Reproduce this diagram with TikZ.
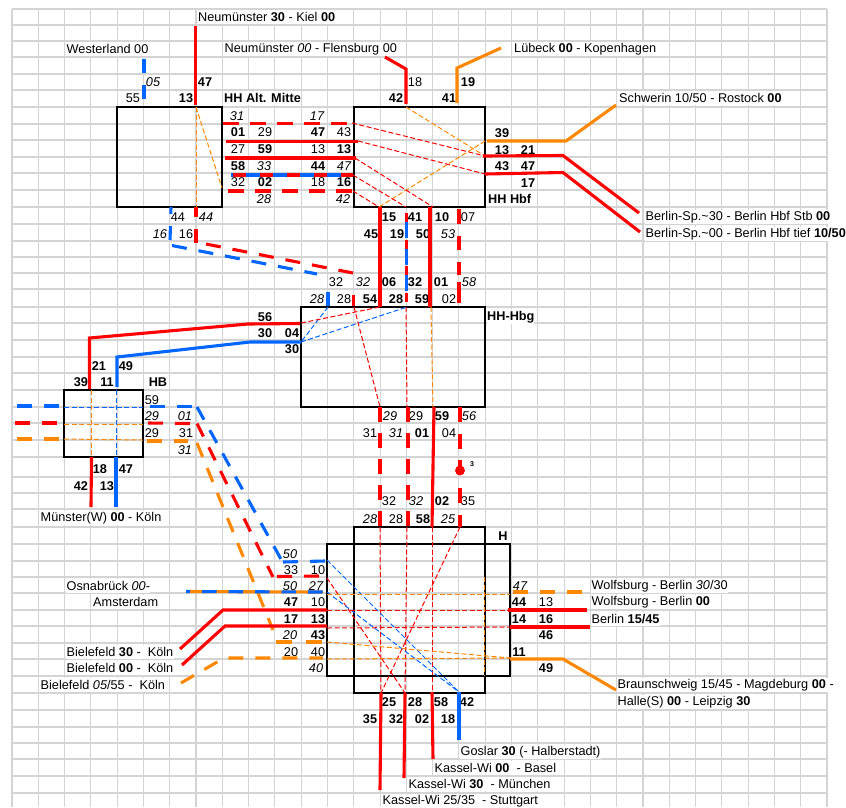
\documentclass[tikz,border=0pt]{standalone}
\usepackage{fontspec}
\setmainfont{Liberation Sans}
\usetikzlibrary{positioning}
\definecolor{linered}{RGB}{255,0,0}
\definecolor{lineblue}{RGB}{0,102,255}
\definecolor{lineorange}{RGB}{255,136,0}
\definecolor{gridgray}{RGB}{212,212,212}
\tikzset{
  gridline/.style={gridgray, line width=1.1pt},
  stationbox/.style={draw=black, line width=1.4pt, inner sep=0pt},
  num/.style={inner sep=0pt, font=\fontsize{12.7}{14}\selectfont},
  numb/.style={num, font=\fontsize{12.7}{14}\selectfont\bfseries},
  numi/.style={num, font=\fontsize{12.7}{14}\selectfont\itshape},
  place/.style={num, anchor=west, fill=white, inner xsep=0.5pt, minimum height=14pt},
  solidline/.style={line width=3.1pt, line join=miter},
  longdash/.style={line width=3.1pt, dash pattern=on 15pt off 12pt},
  thindash/.style={line width=1pt, dash pattern=on 5pt off 2.5pt},
}
\begin{document}
\begin{tikzpicture}[x=1pt,y=-1pt]
\useasboundingbox (0,0) rectangle (846,807);

% Raster
\foreach \i in {0,...,31}
  \draw[gridline] ({12+26.29*\i},9) -- ({12+26.29*\i},807);
\foreach \r in {9,25,41,57,74,90,107,124,140,157,173,190,207,224,241,257,273,289,307,323,340,357,373,390,407,423,440,457,477,493,509,527,544,561,577,593,610,626,643,659,676,693,710,727,743,759,776,793}
  \draw[gridline] (12,\r) -- (827,\r);

% Relationen
\node[place] (kiel) at (197.5,17) {Neumünster \textbf{30} - Kiel \textbf{00}};
\node[place] (westerland) at (66,49) {Westerland 00};
\node[place] (flensburg) at (224,49) {Neumünster \textit{00} - Flensburg 00};
\node[place] (luebeck) at (513.5,49) {Lübeck \textbf{00} - Kopenhagen};
\node[place] (rostock) at (618.5,98) {Schwerin 10/50 - Rostock \textbf{00}};
\node[place] (berlinstb) at (645,217) {Berlin-Sp.\textasciitilde30 - Berlin Hbf Stb \textbf{00}};
\node[place] (berlintief) at (645,234) {Berlin-Sp.\textasciitilde00 - Berlin Hbf tief \textbf{10/50}};
\node[place] (koeln) at (40,518) {Münster(W) \textbf{00} - Köln};
\node[place] (osnabrueck) at (66,586) {Osnabrück \textit{00}-};
\node[place] (amsterdam) at (92.5,602) {Amsterdam};
\node[place] (bielefelda) at (66,652) {Bielefeld \textbf{30} -\ \ Köln};
\node[place] (bielefeldb) at (66,668) {Bielefeld \textbf{00} -\ \ Köln};
\node[place] (bielefeldc) at (40,685) {Bielefeld \textit{05}/55 -\ \ Köln};
\node[place] (wolfsburga) at (591,586) {Wolfsburg - Berlin \textit{30}/30};
\node[place] (wolfsburgb) at (591,602) {Wolfsburg - Berlin \textbf{00}};
\node[place] (berlin) at (591,619) {Berlin \textbf{15/45}};
\node[place] (braunschweig) at (617,685) {Braunschweig 15/45 - Magdeburg \textbf{00} -};
\node[place] (halle) at (617,702) {Halle(S) \textbf{00} - Leipzig \textbf{30}};
\node[place] (goslar) at (460,752) {Goslar \textbf{30} (- Halberstadt)};
\node[place] (basel) at (434,768) {Kassel-Wi \textbf{00}\ \ - Basel};
\node[place] (muenchen) at (408,784) {Kassel-Wi \textbf{30}\ \ - München};
\node[place] (stuttgart) at (382,801) {Kassel-Wi 25/35\ \ - Stuttgart};

% Bahnhofsnamen
\node[numb, anchor=west, fill=white, minimum height=14pt] (altmitte) at (224,98) {HH Alt. Mitte};
\node[numb, anchor=west, fill=white, minimum height=14pt] (hbf) at (488,199) {HH Hbf};
\node[numb, anchor=west, fill=white, minimum height=14pt] (hbg) at (487,317) {HH-Hbg};
\node[numb] (hb) at (158,382) {HB};
\node[numb] (hann) at (503,536) {H};

% Minuten
\foreach \x/\y/\t in {415/82/18,133/98/55,265/132/29,344/132/43,238/149/27,318/149/13,238/182/32,318/182/18,
  178/217/44,468/217/07,186/234/16,336/282/32,344/299/28,449/299/02,152/400/59,152/433/29,186/433/31,
  416/416/29,370/433/31,449/433/04,389/501/32,468/501/35,396/519/28,291/570/33,318/570/10,318/602/10,
  291/652/20,318/652/40,546/602/13}
  \node[num] (m\x-\y) at (\x,\y) {\t};
\foreach \x/\y/\t in {205/82/47,468/82/19,186/98/13,396/98/42,449/98/41,238/132/01,318/132/47,502/133/39,
  265/149/59,344/149/13,502/150/13,528/150/21,238/166/58,318/166/44,502/166/43,528/166/47,265/182/02,344/182/16,
  528/183/17,389/217/15,415/217/41,442/217/10,371/234/45,397/234/19,423/234/50,389/282/06,415/282/32,441/282/01,
  370/299/54,396/299/28,422/299/59,265/317/56,265/333/30,292/333/04,292/349/30,99/366/21,126/366/49,81/382/39,
  107/382/11,100/469/18,126/469/47,81/486/42,107/486/13,442/416/59,422/433/01,442/501/02,423/519/58,291/602/47,
  291/619/17,318/619/13,318/635/43,519/602/44,519/619/14,546/619/16,546/635/46,519/652/11,546/668/49,389/702/25,
  415/702/28,441/702/58,467/702/42,370/719/35,396/719/32,422/719/02,448/719/18}
  \node[numb] (m\x-\y) at (\x,\y) {\t};
\foreach \x/\y/\t in {153/82/05,237/116/31,317/116/17,264/166/33,344/166/47,264/199/28,343/199/42,206/217/44,
  160/234/16,448/234/53,363/282/32,469/282/58,317/299/28,152/416/29,185/416/01,185/450/31,390/416/29,469/416/56,
  396/433/31,416/501/32,370/519/28,448/519/25,290/554/50,290/586/50,316/586/27,290/635/20,316/668/40,520/586/47}
  \node[numi] (m\x-\y) at (\x,\y) {\t};

% Knoten
\node[stationbox, minimum width=105pt, minimum height=100pt] (boxaltmitte) at (169.5,157) {};
\node[stationbox, minimum width=131pt, minimum height=100pt] (boxhbf) at (419.5,157) {};
\node[stationbox, minimum width=184pt, minimum height=100pt] (boxhbg) at (393,357) {};
\node[stationbox, minimum width=79pt, minimum height=67pt] (boxhb) at (103.5,423.5) {};
\node[stationbox, minimum width=131pt, minimum height=166pt] (boxhtall) at (419.5,610) {};
\node[stationbox, minimum width=183pt, minimum height=132pt] (boxhwide) at (418.5,610) {};

% Verbindungen im HH Hbf
\draw[lineorange, thindash] (196,107) -- (196,207);
\draw[lineorange, thindash] (196,107) -- (222,188);
\draw[lineorange, thindash] (406,107) -- (485,156);
\draw[lineorange, thindash] (379,207) -- (485,141);
\draw[linered, thindash] (352,123) -- (485,156);
\draw[linered, thindash] (358,141) -- (485,174);
\draw[linered, thindash] (355,158) -- (433,207);
\draw[linered, thindash] (353,175) -- (406,207);
\draw[linered, thindash] (353,191) -- (379,207);

% Verbindungen im HH-Hbg
\draw[lineblue, thindash] (328,307) -- (301,342);
\draw[lineblue, thindash] (301,342) -- (407,307);
\draw[linered, thindash] (301,323) -- (380,307);
\draw[linered, thindash] (354,307) -- (380,407);
\draw[linered, thindash] (406,307) -- (407,407);
\draw[lineorange, thindash] (431,307) -- (433,407);

% Verbindungen im HB
\draw[lineblue, thindash] (64,407) -- (143,407);
\draw[lineorange, thindash] (64,424) -- (143,424);
\draw[lineorange, thindash] (64,439) -- (143,440);
\draw[lineorange, thindash] (91,390) -- (91,457);
\draw[lineblue, thindash] (116,390) -- (116,457);

% Verbindungen im H
\draw[linered, thindash] (380,527) -- (381,693);
\draw[linered, thindash] (407,527) -- (405,693);
\draw[linered, thindash] (432,527) -- (432,693);
\draw[linered, thindash] (460,527) -- (381,693);
\draw[linered, thindash] (327,578) -- (405,693);
\draw[lineblue, thindash] (327,560) -- (459,692);
\draw[lineblue, thindash] (327,592) -- (459,692);
\draw[lineorange, thindash] (327,594) -- (510,594);
\draw[lineorange, thindash] (484,577) -- (484,675);
\draw[linered, thindash] (327,610) -- (510,610);
\draw[linered, thindash] (327,628) -- (510,627);
\draw[lineorange, thindash] (327,642) -- (510,658);
\draw[lineorange, thindash] (327,659) -- (510,658);

% Nord
\draw[lineblue, longdash, dash pattern=on 14.5pt off 12pt] (144,58.5) -- (144,99);
\draw[linered, solidline] (195.5,26) -- (195.5,105);
\draw[linered, solidline] (385,57) -- (406,69) -- (406,104);
\draw[lineorange, solidline] (501,48) -- (457,68) -- (457,103);
\draw[lineorange, solidline] (616,105) -- (566,141) -- (487,141);
\draw[linered, solidline] (483,156) -- (563,155.5) -- (639,213);
\draw[linered, solidline] (485,174) -- (563,172.5) -- (640,232);

% Zwischen HH Alt. Mitte und HH Hbf
\draw[linered, longdash, dash pattern=on 16pt off 11pt] (222.5,123.5) -- (352,123.5);
\draw[linered, solidline] (226,141.5) -- (358,141.5);
\draw[linered, solidline] (225,158) -- (356,158);
\draw[linered, longdash, dash pattern=on 15pt off 12pt] (231,175) -- (353,175);
\draw[lineblue, longdash, dash pattern=on 14pt off 13pt, dash phase=-15pt] (231,175) -- (342,175);
\draw[linered, longdash, dash pattern=on 16pt off 11pt] (228,191) -- (352,191);

% HH Alt. Mitte nach HH-Hbg
\draw[lineblue, longdash, dash pattern=on 14pt off 12pt, dash phase=7pt] (171,207) -- (170,241);
\draw[lineblue, longdash] (172,245.5) -- (317,274);
\draw[lineblue, solidline] (328,291.5) -- (328,306);
\draw[linered, longdash, dash pattern=on 14pt off 12pt, dash phase=4pt] (196,207) -- (196,243);
\draw[linered, longdash] (206,244) -- (353,273);
\draw[linered, solidline] (353.5,295) -- (353.5,306);
\draw[linered, solidline] (380,207) -- (380,307);
\draw[linered, longdash, dash pattern=on 9.5pt off 17pt] (406.5,213) -- (406.5,306);
\draw[lineblue, longdash, dash pattern=on 16pt off 10.5pt] (406.5,222) -- (406.5,292);
\draw[linered, solidline] (430,207) -- (430,307);
\draw[linered, longdash, dash pattern=on 14.5pt off 12pt] (459,209) -- (459,275);
\draw[linered, solidline] (459,282) -- (459,303);

% HB
\draw[linered, solidline] (89.5,389) -- (89.5,338) -- (248,324) -- (300,323.5);
\draw[lineblue, solidline] (117,387) -- (117,357) -- (250,342) -- (301,342);
\draw[linered, solidline] (91.5,457) -- (91,507);
\draw[lineblue, solidline] (116,457) -- (116,507);
\draw[lineblue, longdash] (17,406) -- (62,406);
\draw[linered, longdash] (15,423) -- (60,423);
\draw[lineorange, longdash] (17,439) -- (62,439);

% HB nach H
\draw[lineblue, longdash] (150,406.5) -- (193,406.5);
\draw[lineblue, longdash, dash pattern=on 14.5pt off 12pt] (197,407) -- (282,561);
\draw[lineblue, longdash] (283,562) -- (325,561);
\draw[linered, longdash] (148,423) -- (190,423.5);
\draw[linered, longdash, dash pattern=on 14.5pt off 12pt] (197,423.5) -- (273,577);
\draw[linered, longdash] (277,576.5) -- (319,576);
\draw[lineorange, longdash] (147,441) -- (188,441);
\draw[lineorange, longdash] (197,443) -- (273,630);
\draw[lineorange, longdash, dash pattern=on 16pt off 14pt] (276,642) -- (322,642);

% HH-Hbg nach H
\draw[linered, longdash, dash pattern=on 15pt off 11pt] (380,407) -- (380,528);
\draw[linered, longdash, dash pattern=on 15pt off 11pt] (408,407) -- (408,528);
\draw[linered, solidline] (434,407) -- (432,527);
\draw[linered, longdash, dash pattern=on 15pt off 12pt] (460,407) -- (460,450);
\draw[linered, solidline] (460,460) -- (460,470);
\draw[linered, fill=linered] (460,470.5) circle (4.7pt);
\node[numb, font=\fontsize{7}{8}\selectfont\bfseries] (takt) at (472,464) {3};
\draw[linered, longdash, dash pattern=on 15pt off 12pt] (460,488) -- (460,527);

% Zulauf H links
\draw[lineorange, line width=3.1pt] (186,591.5) -- (323,592);
\draw[lineblue, longdash, dash pattern=on 14.5pt off 12pt, dash phase=-16pt] (186,591.5) -- (323,592);
\draw[linered, solidline] (180,649) -- (223,610) -- (327,610);
\draw[linered, solidline] (182,665) -- (225,626) -- (327,626);
\draw[lineorange, longdash] (181,683) -- (224,658) -- (323,658);

% Zulauf H rechts
\draw[lineorange, longdash] (513,592) -- (582,592);
\draw[linered, solidline] (508,610) -- (587,610);
\draw[linered, solidline] (510,627) -- (590,627);
\draw[lineorange, solidline] (510,659) -- (563,659) -- (616,690);

% Sued
\draw[linered, solidline] (381,693) -- (380,790);
\draw[linered, solidline] (405,693) -- (404,778);
\draw[linered, solidline] (432,692) -- (433,759);
\draw[lineblue, solidline] (459,692) -- (459,740);
\end{tikzpicture}
\end{document}
